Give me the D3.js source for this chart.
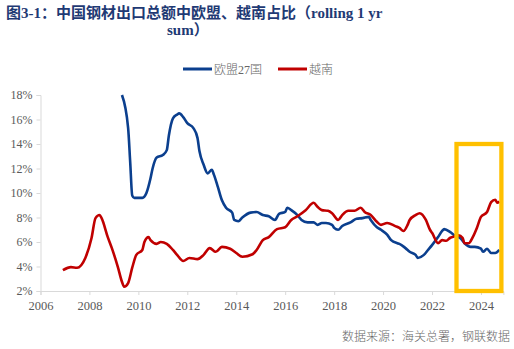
<!DOCTYPE html>
<html>
<head>
<meta charset="utf-8">
<script src="https://cdn.jsdelivr.net/npm/d3@7"></script>
<style>
  html, body { margin: 0; padding: 0; background: #ffffff; }
  svg { display: block; }
</style>
</head>
<body>
<svg id="chart" width="514" height="349"></svg>
<script>
// EU-27 share of China's steel export value (rolling 12-month sum), %
const euDates = ["2009-05","2009-08","2009-09","2009-10","2009-11","2010-02","2010-03","2010-05","2010-07","2010-08",
  "2010-10","2011-01","2011-03","2011-04","2011-06","2011-08","2011-09","2011-11","2012-01","2012-04",
  "2012-06","2012-07","2012-09","2012-11","2013-01","2013-02","2013-04","2013-06","2013-08","2013-11",
  "2013-12","2014-02","2014-04","2014-08","2014-11","2015-02","2015-05","2015-08","2015-10","2016-01",
  "2016-02","2016-04","2016-07","2016-09","2016-12","2017-03","2017-05","2017-07","2017-09","2017-12",
  "2018-01","2018-03","2018-05","2018-09","2018-12","2019-03","2019-06","2019-07","2019-10","2019-12",
  "2020-03","2020-05","2020-08","2020-09","2020-12","2021-02","2021-05","2021-06","2021-09","2021-11",
  "2022-01","2022-04","2022-06","2022-07","2022-10","2022-12","2023-03","2023-05","2023-08","2023-10",
  "2024-01","2024-02","2024-04","2024-06","2024-08","2024-10"];
const euValues = [18.0,15.3,12.5,9.8,9.6,9.6,9.6,10.0,11.2,12.0,
  12.9,13.1,13.5,14.7,16.1,16.4,16.5,16.2,15.7,15.3,
  14.5,13.4,12.3,11.6,11.9,11.5,10.5,9.4,8.8,8.4,
  7.8,7.7,8.0,8.4,8.45,8.2,8.1,7.8,8.3,8.45,
  8.8,8.6,8.2,7.8,7.6,7.6,7.4,7.55,7.55,7.4,
  7.15,7.0,7.3,7.6,7.9,7.95,8.05,7.8,7.2,7.0,
  6.6,6.15,5.9,5.85,5.5,5.2,4.95,4.7,4.95,5.35,
  5.75,6.4,6.9,7.05,6.8,6.55,6.3,5.9,5.6,5.6,
  5.45,5.2,5.45,5.1,5.1,5.35];

// Vietnam share, %
const vnDates = ["2006-12","2007-04","2007-07","2007-11","2008-02","2008-04","2008-06","2008-07","2008-10","2008-12",
  "2009-03","2009-05","2009-06","2009-08","2009-10","2009-12","2010-03","2010-04","2010-06","2010-07",
  "2010-10","2010-12","2011-03","2011-06","2011-08","2011-11","2012-02","2012-06","2012-09","2012-12",
  "2013-03","2013-06","2013-10","2014-01","2014-04","2014-09","2014-11","2015-02","2015-05","2015-09",
  "2016-01","2016-04","2016-07","2016-11","2017-03","2017-05","2017-07","2017-10","2017-12","2018-03",
  "2018-05","2018-08","2018-11","2019-02","2019-04","2019-07","2019-10","2019-12","2020-03","2020-07",
  "2020-09","2020-11","2021-01","2021-02","2021-05","2021-07","2021-10","2021-12","2022-01","2022-04",
  "2022-06","2022-08","2022-10","2022-11","2023-02","2023-04","2023-05","2023-07","2023-09","2023-11",
  "2024-01","2024-04","2024-06","2024-08","2024-09","2024-10"];
const vnValues = [3.7,3.95,3.9,4.7,6.3,7.95,8.2,7.95,6.4,5.5,
  3.95,2.75,2.35,2.65,3.9,4.95,5.35,6.0,6.4,6.15,
  5.85,6.0,5.85,5.35,4.95,4.45,4.7,4.6,4.95,5.5,
  5.2,5.6,5.45,5.1,4.8,5.0,5.35,6.15,6.4,7.05,
  7.2,7.8,8.1,8.6,9.2,8.85,8.6,8.55,8.35,7.8,
  8.2,8.55,8.55,8.8,8.45,8.2,7.65,7.4,7.55,7.3,
  7.15,6.9,7.4,7.8,8.2,8.35,7.8,7.0,6.75,5.9,
  6.15,6.1,6.35,6.4,6.55,6.35,5.9,5.9,6.4,7.15,
  8.05,8.45,9.25,9.45,9.2,9.3];

const yTicks = [2, 4, 6, 8, 10, 12, 14, 16, 18];
const xTickYears = [2006, 2008, 2010, 2012, 2014, 2016, 2018, 2020, 2022, 2024];
const seriesNames = ["欧盟27国", "越南"];
// highlighted recent window
const highlightDates = ["2023-01", "2024-11"];
const highlightRange = [2, 14];

const titleLine1 = "图3-1：中国钢材出口总额中欧盟、越南占比（rolling 1 yr";
const titleLine2 = "sum）";
const sourceText = "数据来源：海关总署，钢联数据";

const parse = d3.timeParse("%Y-%m");
const svg = d3.select("#chart");

const plot = { left: 40.5, right: 503.4, top: 95, bottom: 291 };
const x = d3.scaleTime()
  .domain([new Date(2006, 0, 1), new Date(2024, 11, 1)])
  .range([plot.left, plot.right]);
const y = d3.scaleLinear().domain([2, 18]).range([plot.bottom, plot.top]);

const serif = "'Times New Roman', 'Liberation Serif', 'DejaVu Serif', 'Noto Sans CJK SC', serif";
const cjk = "'Liberation Serif', 'Noto Sans CJK SC', serif";

// title
const title = svg.append("g")
  .attr("fill", "#1F3A74")
  .attr("font-weight", "bold")
  .attr("font-family", serif)
  .attr("font-size", 15);
title.append("text").attr("x", 6).attr("y", 17.5).text(titleLine1);
title.append("text").attr("x", 167).attr("y", 35).text(titleLine2);

// legend
const legendColors = ["#0B3F8E", "#C00000"];
const legendX = [183, 278];
seriesNames.forEach((name, i) => {
  const g = svg.append("g").attr("transform", `translate(${legendX[i]},69)`);
  g.append("line").attr("x1", 0).attr("x2", 29).attr("y1", 0).attr("y2", 0)
    .attr("stroke", legendColors[i]).attr("stroke-width", 3);
  g.append("text").attr("x", 31).attr("y", 4.5)
    .attr("font-family", cjk).attr("font-size", 12).attr("fill", "#666666")
    .attr("font-weight", 300)
    .text(name);
});

// axes
const yAxis = svg.append("g")
  .attr("transform", `translate(${plot.left},0)`)
  .call(d3.axisLeft(y).tickValues(yTicks).tickFormat(d => d + "%").tickSize(4).tickPadding(4));
const xAxis = svg.append("g")
  .attr("transform", `translate(0,${plot.bottom})`)
  .call(d3.axisBottom(x)
    .tickValues(xTickYears.map(yr => new Date(yr, 0, 1)))
    .tickFormat(d3.timeFormat("%Y")).tickSize(4).tickPadding(6));
[yAxis, xAxis].forEach(a => {
  a.selectAll("path, line").attr("stroke", "#D9D9D9");
  a.selectAll("text").attr("fill", "#595959").attr("font-family", serif).attr("font-size", 12.5);
});
yAxis.selectAll("text").attr("font-size", 12);

// series lines
const line = d3.line()
  .x(d => x(d[0]))
  .y(d => y(d[1]))
  .curve(d3.curveMonotoneX);

const euData = euDates.map((d, i) => [parse(d), euValues[i]]);
const vnData = vnDates.map((d, i) => [parse(d), vnValues[i]]);

svg.append("path").datum(euData)
  .attr("d", line).attr("fill", "none")
  .attr("stroke", legendColors[0]).attr("stroke-width", 2.6)
  .attr("stroke-linejoin", "round");
svg.append("path").datum(vnData)
  .attr("d", line).attr("fill", "none")
  .attr("stroke", legendColors[1]).attr("stroke-width", 2.6)
  .attr("stroke-linejoin", "round");

// highlight box
const hx0 = x(parse(highlightDates[0])), hx1 = x(parse(highlightDates[1]));
const hy0 = y(highlightRange[1]), hy1 = y(highlightRange[0]);
svg.append("rect")
  .attr("x", hx0).attr("y", hy0)
  .attr("width", hx1 - hx0).attr("height", hy1 - hy0)
  .attr("fill", "none").attr("stroke", "#FFC000").attr("stroke-width", 4.3);

// source
svg.append("text")
  .attr("x", 510).attr("y", 341).attr("text-anchor", "end")
  .attr("font-family", cjk).attr("font-size", 12).attr("fill", "#666666")
  .attr("font-weight", 300)
  .text(sourceText);
</script>
</body>
</html>
